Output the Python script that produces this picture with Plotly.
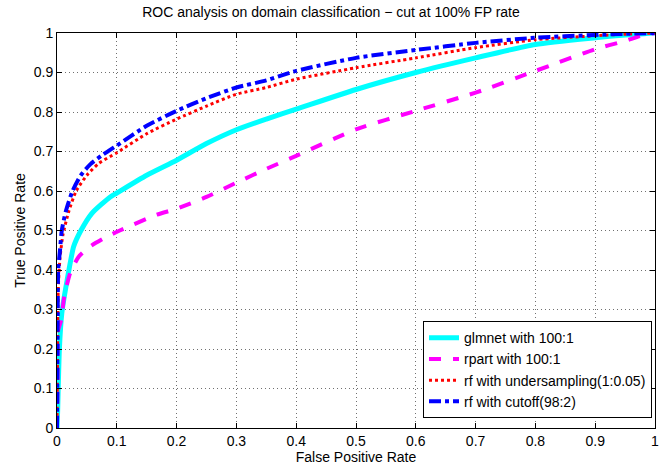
import plotly.graph_objects as go

# glmnet with 100:1
glm_x = [0, 0.001, 0.004, 0.008, 0.017, 0.028, 0.04, 0.058, 0.089, 0.1, 0.15, 0.2, 0.25, 0.3, 0.35, 0.4, 0.5, 0.6, 0.7, 0.8, 0.9, 0.95, 1.0]
glm_y = [0, 0.04, 0.2, 0.29, 0.375, 0.46, 0.5, 0.543, 0.585, 0.595, 0.64, 0.678, 0.72, 0.755, 0.782, 0.807, 0.857, 0.90, 0.937, 0.971, 0.988, 0.995, 1.0]

# rpart with 100:1
rpart_x = [0, 0.001, 0.002, 0.007, 0.012, 0.022, 0.036, 0.055, 0.083, 0.105, 0.167, 0.2, 0.25, 0.3, 0.35, 0.4, 0.5, 0.6, 0.7, 0.8, 0.9, 0.95, 0.975, 1.0]
rpart_y = [0, 0.12, 0.248, 0.273, 0.332, 0.392, 0.433, 0.459, 0.484, 0.5, 0.54, 0.555, 0.585, 0.621, 0.656, 0.689, 0.756, 0.803, 0.849, 0.904, 0.959, 0.98, 0.992, 1.0]

# rf with undersampling(1:0.05)
rfu_x = [0, 0.001, 0.002, 0.005, 0.01, 0.02, 0.032, 0.05, 0.07, 0.1, 0.15, 0.2, 0.25, 0.3, 0.35, 0.4, 0.5, 0.6, 0.7, 0.8, 0.9, 0.95, 1.0]
rfu_y = [0, 0.2, 0.35, 0.43, 0.49, 0.55, 0.6, 0.64, 0.67, 0.697, 0.745, 0.782, 0.815, 0.845, 0.862, 0.883, 0.912, 0.937, 0.963, 0.983, 0.993, 0.997, 1.0]

# rf with cutoff(98:2)
rfc_x = [0, 0.001, 0.002, 0.005, 0.008, 0.015, 0.026, 0.04, 0.056, 0.075, 0.1, 0.15, 0.2, 0.25, 0.3, 0.35, 0.4, 0.5, 0.6, 0.7, 0.8, 0.9, 0.95, 1.0]
rfc_y = [0, 0.25, 0.4, 0.45, 0.5, 0.55, 0.6, 0.64, 0.668, 0.69, 0.715, 0.765, 0.803, 0.835, 0.862, 0.88, 0.904, 0.937, 0.957, 0.975, 0.988, 0.995, 0.998, 1.0]

tick_vals = [0, 0.1, 0.2, 0.3, 0.4, 0.5, 0.6, 0.7, 0.8, 0.9, 1]
tick_text = ["0", "0.1", "0.2", "0.3", "0.4", "0.5", "0.6", "0.7", "0.8", "0.9", "1"]

series = [
    ("glmnet with 100:1", glm_x, glm_y, "#00FFFF", "solid", 5),
    ("rpart with 100:1", rpart_x, rpart_y, "#FF00FF", "dash", 4),
    ("rf with undersampling(1:0.05)", rfu_x, rfu_y, "#FF0000", "dot", 3),
    ("rf with cutoff(98:2)", rfc_x, rfc_y, "#0000FF", "dashdot", 4),
]

fig = go.Figure()
for name, xs, ys, col, dash, w in series:
    fig.add_trace(go.Scatter(x=xs, y=ys, mode="lines", name=name,
                             line=dict(color=col, dash=dash, width=w, shape="spline", smoothing=0.6)))

axis_common = dict(
    range=[0, 1], tickmode="array", tickvals=tick_vals, ticktext=tick_text,
    showline=True, linecolor="#000000", linewidth=1, mirror="ticks",
    ticks="inside", ticklen=5, tickcolor="#000000",
    showgrid=True, gridcolor="#707070", griddash="1px,3px", gridwidth=1,
    zeroline=False, tickfont=dict(size=14, color="#000000"),
    ticklabeloverflow="allow",
)

fig.update_layout(
    width=662, height=466,
    margin=dict(l=57, r=3, t=33, b=38),
    paper_bgcolor="white", plot_bgcolor="white",
    font=dict(family="Liberation Sans, Arial, sans-serif", size=14, color="#000000"),
    title=dict(text="ROC analysis on domain classification \u2212 cut at 100% FP rate",
               x=0.5, xanchor="center", y=0.975, yanchor="middle",
               font=dict(size=14)),
    xaxis=dict(title=dict(text="False Positive Rate", standoff=0, font=dict(size=14)), **axis_common),
    yaxis=dict(title=dict(text="True Positive Rate", standoff=4, font=dict(size=14)), **axis_common),
    legend=dict(x=0.995, y=0.025, xanchor="right", yanchor="bottom",
                bgcolor="white", bordercolor="#000000", borderwidth=1,
                font=dict(size=14), tracegroupgap=0),
    showlegend=True,
)

fig.write_html("out.html", config={"displayModeBar": False},
               post_script="document.body.style.margin='0';document.body.style.overflow='hidden';")
